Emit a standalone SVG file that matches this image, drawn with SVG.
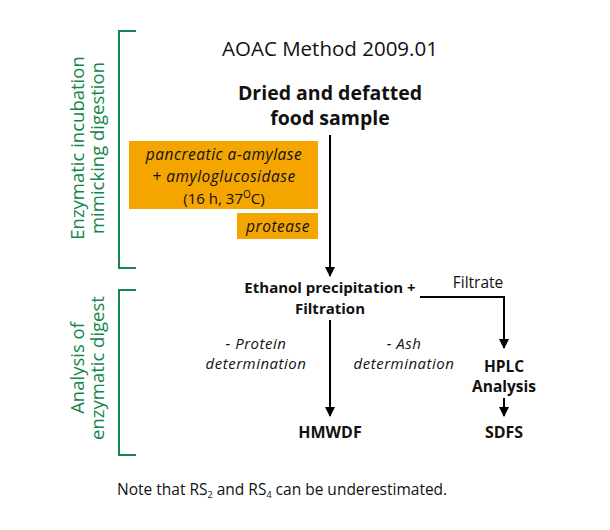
<svg xmlns="http://www.w3.org/2000/svg" width="610" height="530" viewBox="0 0 610 530">
<style>
text{font-family:"Open Sans","Noto Sans",sans-serif;fill:#111}
.b{font-weight:700}
.i{font-style:italic}
.g{fill:#13874b;font-weight:500}
.br{fill:none;stroke:#13874b;stroke-width:2}
.ln{fill:none;stroke:#000;stroke-width:2}
.box{fill:#f5a500}
</style>
<defs>
<marker id="ah" markerWidth="10" markerHeight="10" refX="9" refY="5" orient="auto" markerUnits="userSpaceOnUse">
<path d="M0,0 L10,5 L0,10 z" fill="#000"/>
</marker>
</defs>
<rect width="610" height="530" fill="#fff"/>
<g id="bracket-top">
<path class="br" d="M136,31 H119 V268 H136"/>
<text class="g" font-size="18.5" text-anchor="middle" transform="translate(84,148) rotate(-90)">Enzymatic incubation</text>
<text class="g" font-size="18.5" text-anchor="middle" transform="translate(104,148) rotate(-90)">mimicking digestion</text>
</g>
<g id="bracket-bottom">
<path class="br" d="M136,290 H119 V455 H136"/>
<text class="g" font-size="18.5" text-anchor="middle" transform="translate(84,368) rotate(-90)">Analysis of</text>
<text class="g" font-size="18.5" text-anchor="middle" transform="translate(104,368) rotate(-90)">enzymatic digest</text>
</g>
<g id="title"><text font-size="20.5" x="330" y="56" text-anchor="middle">AOAC Method 2009.01</text></g>
<g id="sample"><text class="b" font-size="19.5" text-anchor="middle"><tspan x="330" y="100">Dried and defatted</tspan><tspan x="330" y="125">food sample</tspan></text></g>
<g id="enzymes">
<rect class="box" x="129" y="141" width="189" height="68"/>
<text class="i" font-size="15.5" letter-spacing="0.5" text-anchor="middle"><tspan x="224" y="160">pancreatic a-amylase</tspan><tspan x="224" y="182">+ amyloglucosidase</tspan></text>
<text font-size="15" text-anchor="middle" x="224" y="204">(16 h, 37<tspan font-size="10" dy="-6">O</tspan><tspan dy="6">C)</tspan></text>
</g>
<g id="protease">
<rect class="box" x="237" y="213" width="81" height="26"/>
<text class="i" font-size="15.5" letter-spacing="0.5" text-anchor="middle" x="278" y="232">protease</text>
</g>
<g id="ethanol"><text class="b" font-size="15" text-anchor="middle"><tspan x="330" y="293">Ethanol precipitation +</tspan><tspan x="330" y="314">Filtration</tspan></text></g>
<g id="protein"><text class="i" font-size="15" letter-spacing="0.5" text-anchor="middle"><tspan x="256" y="349">- Protein</tspan><tspan x="256" y="369">determination</tspan></text></g>
<g id="ash"><text class="i" font-size="15" letter-spacing="0.5" text-anchor="middle"><tspan x="404" y="349">- Ash</tspan><tspan x="404" y="369">determination</tspan></text></g>
<g id="hplc"><text class="b" font-size="15.5" text-anchor="middle"><tspan x="504" y="372">HPLC</tspan><tspan x="504" y="392">Analysis</tspan></text></g>
<g id="hmwdf"><text class="b" font-size="16" text-anchor="middle" x="330" y="438">HMWDF</text></g>
<g id="sdfs"><text class="b" font-size="16" text-anchor="middle" x="504" y="438">SDFS</text></g>
<g id="filtrate-label"><text font-size="15.5" text-anchor="middle" x="478" y="288">Filtrate</text></g>
<g id="note"><text font-size="15.5" x="117" y="495">Note that RS<tspan font-size="9" dy="3">2</tspan><tspan dy="-3"> and RS</tspan><tspan font-size="9" dy="3">4</tspan><tspan dy="-3"> can be underestimated.</tspan></text></g>
<g id="connectors">
<path class="ln" d="M330,135 V276" marker-end="url(#ah)"/>
<path class="ln" d="M330,320 V416" marker-end="url(#ah)"/>
<path class="ln" d="M420,297 H504 V348" marker-end="url(#ah)"/>
<path class="ln" d="M504,398 V416" marker-end="url(#ah)"/>
</g>
</svg>
